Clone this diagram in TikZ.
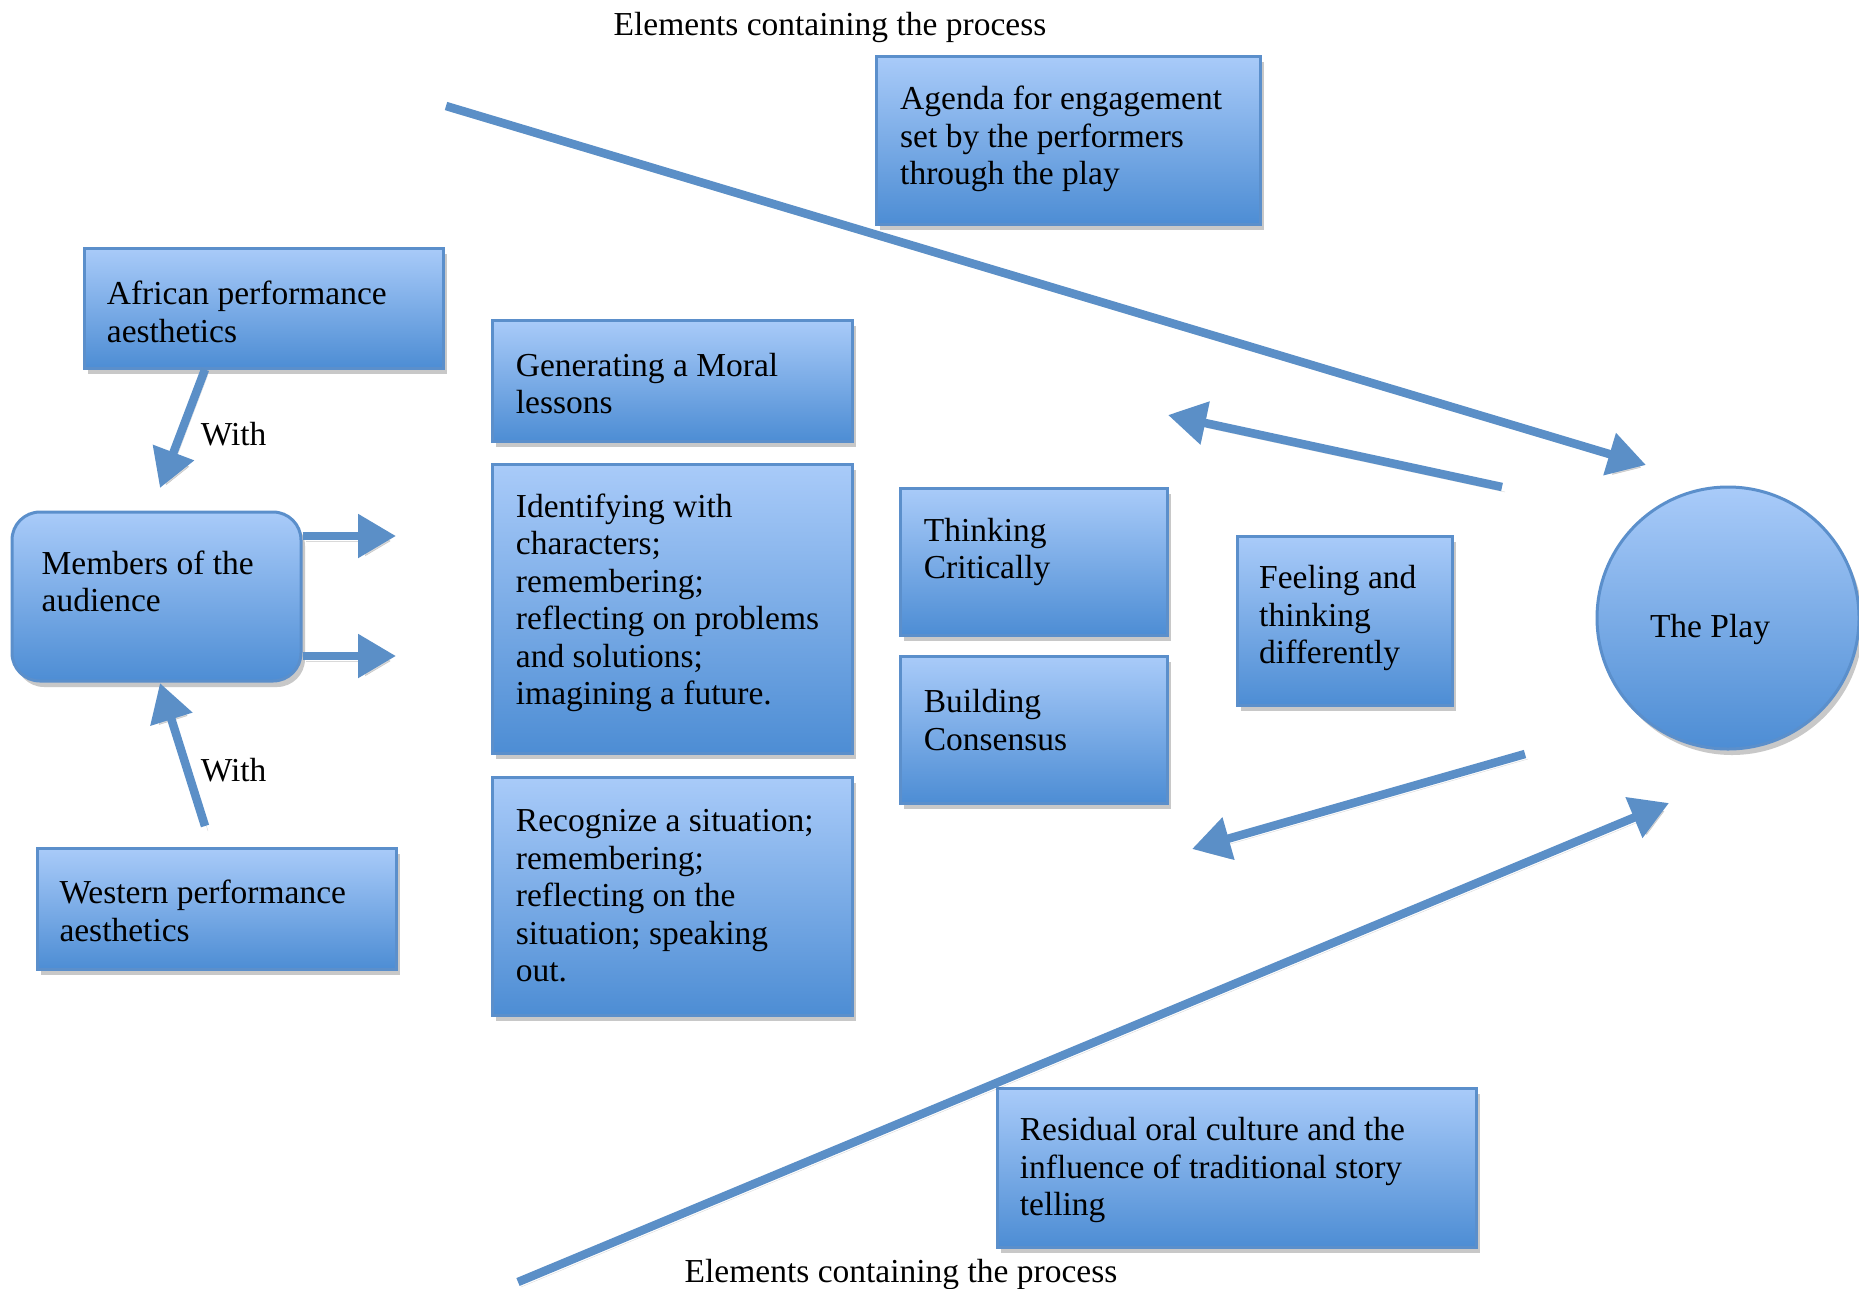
\documentclass[tikz,border=0pt]{standalone}
\usepackage{fontspec}
\setmainfont{Liberation Serif}
\usetikzlibrary{arrows.meta,shadows}
\definecolor{boxtop}{HTML}{A9CBF9}
\definecolor{boxbot}{HTML}{4D8DD4}
\definecolor{boxline}{HTML}{5B8FCB}
\definecolor{arrowc}{HTML}{5B8FC7}
\begin{document}
\begin{tikzpicture}[x=1pt,y=-1pt,
  box/.style={draw=boxline, line width=3pt, top color=boxtop, bottom color=boxbot,
    inner sep=0pt, drop shadow={shadow xshift=4pt, shadow yshift=-6pt, opacity=0.3, fill=black!70}},
  txt/.style={font=\fontsize{33.5}{37.5}\selectfont, align=left, inner sep=0pt, anchor=west, yshift=-3pt},
  conn/.style={draw=arrowc, line width=8.5pt, -{Triangle[length=38pt,width=42pt]},
    preaction={draw=black, opacity=0.15, transform canvas={xshift=3pt,yshift=-5pt}}},
]
\useasboundingbox[fill=white] (0,0) rectangle (1859,1288);

% titles
\node[txt, anchor=center] (ttop) at (830,24) {Elements containing the process};
\node[txt, anchor=center] (tbot) at (901,1271) {Elements containing the process};

% free ends of connectors
\coordinate (bigAs) at (446,106);
\coordinate (bigAe) at (1646,465);
\coordinate (upS) at (1502,487);
\coordinate (upE) at (1168,415);
\coordinate (dnS) at (1525,754);
\coordinate (dnE) at (1192,849);
\coordinate (bigBs) at (518,1282);
\coordinate (bigBe) at (1669,803);
\coordinate (afS) at (205,370);
\coordinate (afE) at (160,488);
\coordinate (weS) at (205,826);
\coordinate (weE) at (160,683);
\coordinate (m1e) at (396,536);
\coordinate (m2e) at (396,656);

% boxes
\node[box, minimum width=384, minimum height=168] (agenda) at (1068,140) {};
\node[box, minimum width=359, minimum height=120] (african) at (263.5,308) {};
\node[box, minimum width=360, minimum height=121] (moral) at (672,380.5) {};
\node[box, minimum width=360, minimum height=289] (ident) at (672,608.5) {};
\node[box, minimum width=360, minimum height=238] (recog) at (672,896) {};
\node[box, minimum width=267, minimum height=147] (think) at (1033.5,561.5) {};
\node[box, minimum width=267, minimum height=147] (build) at (1033.5,729.5) {};
\node[box, minimum width=215, minimum height=169] (feel) at (1344.5,620.5) {};
\node[box, rounded corners=28, minimum width=289, minimum height=169] (members) at (156.5,596.5) {};
\node[box, minimum width=359, minimum height=121] (western) at (216.5,908.5) {};
\node[box, minimum width=479, minimum height=159] (resid) at (1236.5,1167.5) {};
\node[box, circle, minimum size=262] (play) at (1728,618) {};

% box texts
\node[txt] (agendaT) at (900,136) {Agenda for engagement\\set by the performers\\through the play};
\node[txt] (africanT) at (106.7,309) {African performance\\aesthetics};
\node[txt] (moralT) at (515.7,380.6) {Generating a Moral\\lessons};
\node[txt] (identT) at (515.7,600) {Identifying with\\characters;\\remembering;\\reflecting on problems\\and solutions;\\imagining a future.};
\node[txt] (recogT) at (515.7,893) {Recognize a situation;\\remembering;\\reflecting on the\\situation; speaking\\out.};
\node[txt] (thinkT) at (923.6,549) {Thinking\\Critically};
\node[txt] (buildT) at (923.6,717) {Building\\Consensus};
\node[txt] (feelT) at (1259,615) {Feeling and\\thinking\\differently};
\node[txt] (membersT) at (41.5,578.6) {Members of the\\audience};
\node[txt] (westernT) at (59.3,908) {Western performance\\aesthetics};
\node[txt] (residT) at (1019.6,1167) {Residual oral culture and the\\influence of traditional story\\telling};
\node[txt, anchor=center] (playT) at (1710,626) {The Play};

% With labels
\node[txt, anchor=center] (with1) at (233.6,431.6) {With};
\node[txt, anchor=center] (with2) at (233.6,767) {With};

% connectors
\draw[conn] (bigAs) -- (bigAe);
\draw[conn] (upS) -- (upE);
\draw[conn] (dnS) -- (dnE);
\draw[conn] (bigBs) -- (bigBe);
\draw[conn] (african.south -| afS) -- (afE);
\draw[conn] (weS) -- (weE);
\draw[conn] (members.east |- m1e) -- (m1e);
\draw[conn] (members.east |- m2e) -- (m2e);
\end{tikzpicture}
\end{document}
